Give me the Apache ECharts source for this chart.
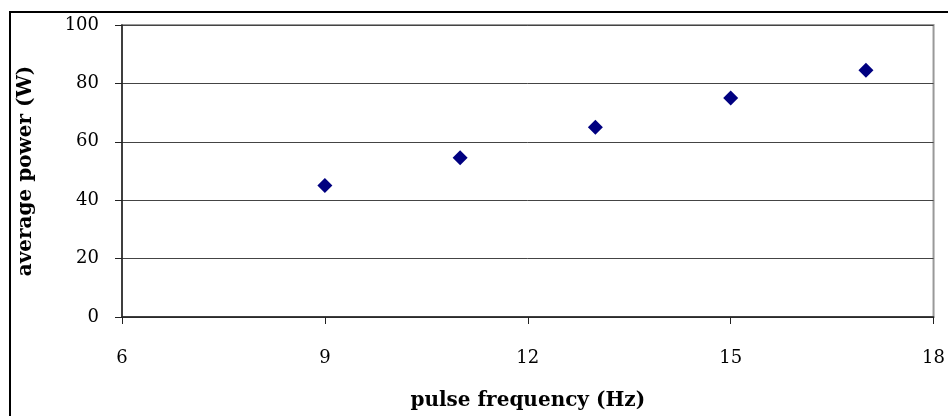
<!DOCTYPE html>
<html><head><meta charset="utf-8">
<script src="https://cdn.jsdelivr.net/npm/echarts@6/dist/echarts.min.js"></script>
<style>html,body{margin:0;padding:0;background:#fff}#c{width:948px;height:416px}</style>
</head><body><div id="c"></div>
<script>
const freqHz = [9, 11, 13, 15, 17];
const powerW = [45, 54.5, 65, 75, 84.5];
const xTitle = 'pulse frequency (Hz)';
const yTitle = 'average power (W)';

const chart = echarts.init(document.getElementById('c'), null, {renderer: 'canvas'});
const font = 'DejaVu Serif';
chart.setOption({
  animation: false,
  backgroundColor: '#fff',
  graphic: [{
    type: 'rect', silent: true,
    shape: {x: 10, y: 12, width: 960, height: 430},
    style: {fill: 'none', stroke: '#000', lineWidth: 2}
  }],
  grid: {left: 122, top: 25, right: 14, bottom: 99, show: true, borderColor: '#999', borderWidth: 2, backgroundColor: 'transparent'},
  xAxis: {
    type: 'value', min: 6, max: 18, interval: 3,
    name: xTitle, nameLocation: 'middle', nameGap: 74,
    nameTextStyle: {fontFamily: font, fontWeight: 'bold', fontSize: 20, color: '#000'},
    axisLine: {show: true, lineStyle: {color: '#222', width: 1.5}},
    axisTick: {show: true, length: 7, lineStyle: {color: '#222'}},
    axisLabel: {fontFamily: font, fontSize: 18, color: '#000', margin: 32},
    splitLine: {show: false}
  },
  yAxis: {
    type: 'value', min: 0, max: 100, interval: 20,
    name: yTitle, nameLocation: 'middle', nameGap: 86,
    nameTextStyle: {fontFamily: font, fontWeight: 'bold', fontSize: 20, color: '#000'},
    axisLine: {show: true, lineStyle: {color: '#222', width: 1.5}},
    axisTick: {show: true, length: 7, lineStyle: {color: '#222'}},
    axisLabel: {fontFamily: font, fontSize: 18, color: '#000', margin: 23},
    splitLine: {show: true, lineStyle: {color: '#444', width: 1}}
  },
  series: [{
    type: 'scatter',
    data: freqHz.map((f, i) => [f, powerW[i]]),
    symbol: 'diamond', symbolSize: 15,
    itemStyle: {color: '#000080', opacity: 1}
  }]
});
</script></body></html>
